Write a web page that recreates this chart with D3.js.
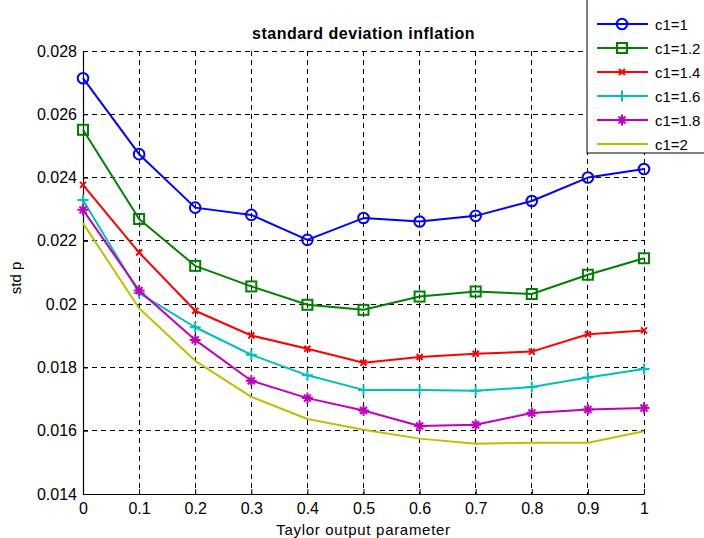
<!DOCTYPE html>
<html>
<head>
<meta charset="utf-8">
<script src="https://cdn.jsdelivr.net/npm/d3@7"></script>
<style>
  body { margin: 0; background: #fff; }
  svg { display: block; font-family: "Liberation Sans", Arial, sans-serif; }
</style>
</head>
<body>
<div id="chart"></div>
<script>
// x values (Taylor output parameter)
var xValues = [0, 0.1, 0.2, 0.3, 0.4, 0.5, 0.6, 0.7, 0.8, 0.9, 1];
var xTicks = xValues;
var yTicks = [0.014, 0.016, 0.018, 0.02, 0.022, 0.024, 0.026, 0.028];

var seriesNames = ["c1=1", "c1=1.2", "c1=1.4", "c1=1.6", "c1=1.8", "c1=2"];
var c1_1   = [0.02714, 0.02474, 0.02305, 0.02282, 0.02203, 0.02272, 0.02261, 0.02279, 0.02326, 0.02400, 0.02427];
var c1_1_2 = [0.02551, 0.02269, 0.02121, 0.02056, 0.01998, 0.01982, 0.02024, 0.02040, 0.02032, 0.02093, 0.02145];
var c1_1_4 = [0.02377, 0.02163, 0.01979, 0.01901, 0.01859, 0.01815, 0.01833, 0.01843, 0.01850, 0.01905, 0.01917];
var c1_1_6 = [0.02329, 0.02035, 0.01927, 0.01840, 0.01775, 0.01729, 0.01729, 0.01726, 0.01738, 0.01768, 0.01795];
var c1_1_8 = [0.02298, 0.02043, 0.01887, 0.01758, 0.01703, 0.01664, 0.01615, 0.01619, 0.01656, 0.01667, 0.01672];
var c1_2   = [0.02256, 0.01987, 0.01821, 0.01707, 0.01637, 0.01603, 0.01575, 0.01559, 0.01562, 0.01562, 0.01598];

var series = [
  { name: seriesNames[0], values: c1_1,   color: "#0000ff", marker: "circle" },
  { name: seriesNames[1], values: c1_1_2, color: "#008000", marker: "square" },
  { name: seriesNames[2], values: c1_1_4, color: "#ff0000", marker: "x" },
  { name: seriesNames[3], values: c1_1_6, color: "#00bfbf", marker: "plus" },
  { name: seriesNames[4], values: c1_1_8, color: "#bf00bf", marker: "star" },
  { name: seriesNames[5], values: c1_2,   color: "#bfbf00", marker: "none" }
];

var width = 704, height = 538;
var margin = { top: 51, right: 60, bottom: 44, left: 83 };
var chartWidth = width - margin.left - margin.right;
var chartHeight = height - margin.top - margin.bottom;

var svg = d3.select("#chart").append("svg")
  .attr("width", width)
  .attr("height", height);

var chartGroup = svg.append("g")
  .attr("transform", `translate(${margin.left}, ${margin.top})`);

var xScale = d3.scaleLinear().domain([0, 1]).range([0, chartWidth]);
var yScale = d3.scaleLinear().domain([0.014, 0.028]).range([chartHeight, 0]);

// grid lines
chartGroup.append("g")
  .selectAll("line")
  .data(xTicks)
  .enter()
  .append("line")
  .attr("x1", d => xScale(d)).attr("x2", d => xScale(d))
  .attr("y1", 0).attr("y2", chartHeight)
  .attr("stroke", "#000").attr("stroke-width", 1)
  .attr("stroke-dasharray", "5,4").attr("shape-rendering", "crispEdges");

chartGroup.append("g")
  .selectAll("line")
  .data(yTicks)
  .enter()
  .append("line")
  .attr("y1", d => yScale(d)).attr("y2", d => yScale(d))
  .attr("x1", 0).attr("x2", chartWidth)
  .attr("stroke", "#000").attr("stroke-width", 1)
  .attr("stroke-dasharray", "5,4").attr("shape-rendering", "crispEdges");

// axes
var bottomAxis = d3.axisBottom(xScale).tickValues(xTicks).tickSizeInner(-5).tickSizeOuter(0)
  .tickPadding(9).tickFormat(d3.format("~g"));
var leftAxis = d3.axisLeft(yScale).tickValues(yTicks).tickSizeInner(-5).tickSizeOuter(0)
  .tickPadding(6).tickFormat(d => d3.format("~g")(+d.toFixed(3)));

var gx = chartGroup.append("g")
  .attr("transform", "translate(0, " + chartHeight + ")")
  .call(bottomAxis);
var gy = chartGroup.append("g").call(leftAxis);

[gx, gy].forEach(function(g) {
  g.select(".domain").attr("stroke", "#000").attr("stroke-width", 1.2);
  g.selectAll(".tick line").attr("stroke", "#000");
  g.selectAll("text").attr("fill", "#000").style("font-size", "16px")
    .style("font-family", "'Liberation Sans', Arial, sans-serif");
});

// lines
var line = d3.line()
  .x((d, i) => xScale(xValues[i]))
  .y(d => yScale(d));

function drawMarker(g, type, color, x, y) {
  if (type === "circle") {
    g.append("circle").attr("cx", x).attr("cy", y).attr("r", 5.3)
      .attr("fill", "none").attr("stroke", color).attr("stroke-width", 2);
  } else if (type === "square") {
    g.append("rect").attr("x", x - 5).attr("y", y - 5).attr("width", 10).attr("height", 10)
      .attr("fill", "none").attr("stroke", color).attr("stroke-width", 2);
  } else if (type === "x") {
    var s = 3;
    g.append("path").attr("d", `M${x - s},${y - s}L${x + s},${y + s}M${x - s},${y + s}L${x + s},${y - s}`)
      .attr("stroke", color).attr("stroke-width", 2);
  } else if (type === "plus") {
    var p = 5.5;
    g.append("path").attr("d", `M${x - p},${y}L${x + p},${y}M${x},${y - p}L${x},${y + p}`)
      .attr("stroke", color).attr("stroke-width", 2);
  } else if (type === "star") {
    var a = 5.5, b = 3.5;
    g.append("path").attr("d", `M${x - a},${y}L${x + a},${y}M${x},${y - a}L${x},${y + a}` +
      `M${x - b},${y - b}L${x + b},${y + b}M${x - b},${y + b}L${x + b},${y - b}`)
      .attr("stroke", color).attr("stroke-width", 2);
  }
}

series.forEach(function(s) {
  chartGroup.append("path")
    .datum(s.values)
    .attr("d", line)
    .attr("fill", "none")
    .attr("stroke", s.color)
    .attr("stroke-width", 2)
    .attr("stroke-linejoin", "round");
  var mg = chartGroup.append("g");
  s.values.forEach(function(v, i) {
    drawMarker(mg, s.marker, s.color, xScale(xValues[i]), yScale(v));
  });
});

// title and labels
svg.append("text")
  .attr("x", margin.left + chartWidth / 2)
  .attr("y", 39)
  .attr("text-anchor", "middle")
  .style("font-size", "16px")
  .style("letter-spacing", "0.5px")
  .style("font-weight", "bold")
  .text("standard deviation inflation");

svg.append("text")
  .attr("x", margin.left + chartWidth / 2)
  .attr("y", 535)
  .attr("text-anchor", "middle")
  .style("font-size", "15px")
  .style("letter-spacing", "0.7px")
  .text("Taylor output parameter");

svg.append("text")
  .attr("transform", "translate(21, 278) rotate(-90)")
  .attr("text-anchor", "middle")
  .style("font-size", "15px")
  .text("std p");

// legend
var legend = svg.append("g").attr("transform", "translate(587, 0)");
legend.append("rect")
  .attr("x", 0).attr("y", -5).attr("width", 130).attr("height", 158)
  .attr("fill", "#fff").attr("stroke", "#000").attr("stroke-width", 1);

series.forEach(function(s, i) {
  var ly = 24 + i * 24;
  legend.append("line")
    .attr("x1", 10).attr("x2", 61).attr("y1", ly).attr("y2", ly)
    .attr("stroke", s.color).attr("stroke-width", 2);
  drawMarker(legend, s.marker, s.color, 35, ly);
  legend.append("text")
    .attr("x", 68).attr("y", ly + 5.5)
    .style("font-size", "15px")
    .text(s.name);
});
</script>
</body>
</html>
